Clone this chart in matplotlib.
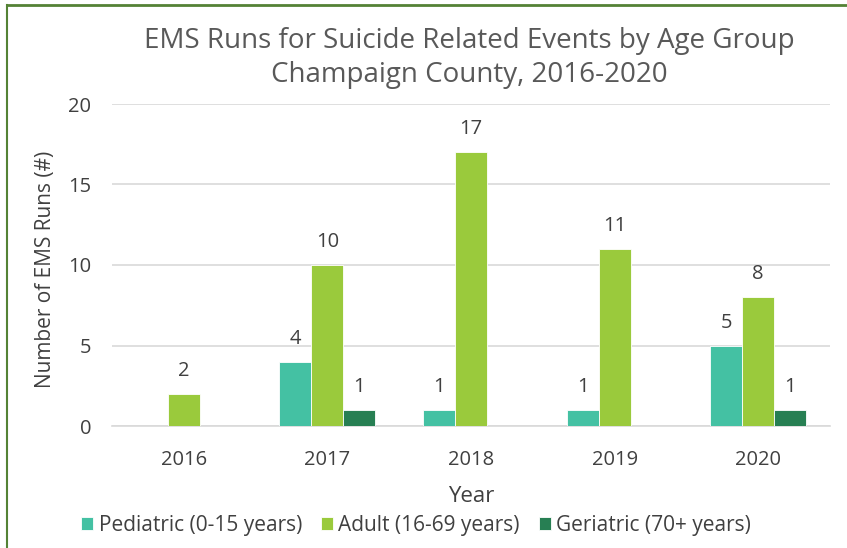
import matplotlib
matplotlib.use("Agg")
import matplotlib.pyplot as plt
from matplotlib.lines import Line2D
import numpy as np

plt.rcParams['font.family'] = ['Open Sans', 'DejaVu Sans']

years = ["2016", "2017", "2018", "2019", "2020"]
pediatric = [0, 4, 1, 1, 5]
adult = [2, 10, 17, 11, 8]
geriatric = [0, 1, 0, 0, 1]
series_names = ["Pediatric (0-15 years)", "Adult (16-69 years)", "Geriatric (70+ years)"]
colors = ["#44C1A3", "#9ACA3C", "#277F53"]

W, H = 847, 548
fig = plt.figure(figsize=(W / 100, H / 100), dpi=100)
ax = fig.add_axes([112 / W, 1 - 426 / H, (830 - 112) / W, (426 - 104) / H])

x = np.arange(len(years))
width = 0.223
text_col = "#404040"
for i, (vals, name, col) in enumerate(zip([pediatric, adult, geriatric], series_names, colors)):
    pos = x + (i - 1) * width
    bars = ax.bar(pos, vals, width, color=col, edgecolor="white", linewidth=0.6, label=name, zorder=3)
    for b, v in zip(bars, vals):
        if v > 0:
            ax.text(b.get_x() + b.get_width() / 2, v + 0.8, str(v), ha="center", va="bottom",
                    fontsize=14.5, color=text_col)

ax.set_xlim(-0.5, len(years) - 0.5)
ax.set_ylim(0, 20)
ax.set_yticks([0, 5, 10, 15, 20])
ax.set_xticks(x)
ax.set_xticklabels(years)
ax.tick_params(axis="both", length=0, labelsize=14.5, colors=text_col)
ax.tick_params(axis="x", pad=17)
ax.tick_params(axis="y", pad=15)
ax.yaxis.grid(True, color="#D9D9D9", linewidth=1.2, zorder=0)
for s in ["top", "right", "left"]:
    ax.spines[s].set_visible(False)
ax.spines["bottom"].set_color("#D9D9D9")
ax.spines["bottom"].set_linewidth(1.2)

ax.set_xlabel("Year", fontsize=16, color=text_col, labelpad=12)
fig.text(45 / W, 1 - 269 / H, "Number of EMS Runs (#)", rotation=90, ha="center", va="center",
         fontsize=15, color=text_col)

fig.text(469 / W, 1 - 58 / H, "EMS Runs for Suicide Related Events by Age Group\nChampaign County, 2016-2020",
         ha="center", va="center", fontsize=20, color="#595959", linespacing=1.3)

ax.legend(loc="center", bbox_to_anchor=((416 - 112) / 718, (426 - 525) / (426 - 104)), ncol=3, frameon=False,
          fontsize=15, labelcolor=text_col, handlelength=0.6, handleheight=0.6,
          handletextpad=0.25, columnspacing=0.9, borderaxespad=0)

green = "#548235"
fig.add_artist(Line2D([7 / W, 1], [1 - 5 / H, 1 - 5 / H], color=green, linewidth=2.0))
fig.add_artist(Line2D([7 / W, 7 / W], [0, 1 - 5 / H], color=green, linewidth=1.5))

fig.savefig("out.png", dpi=100)
